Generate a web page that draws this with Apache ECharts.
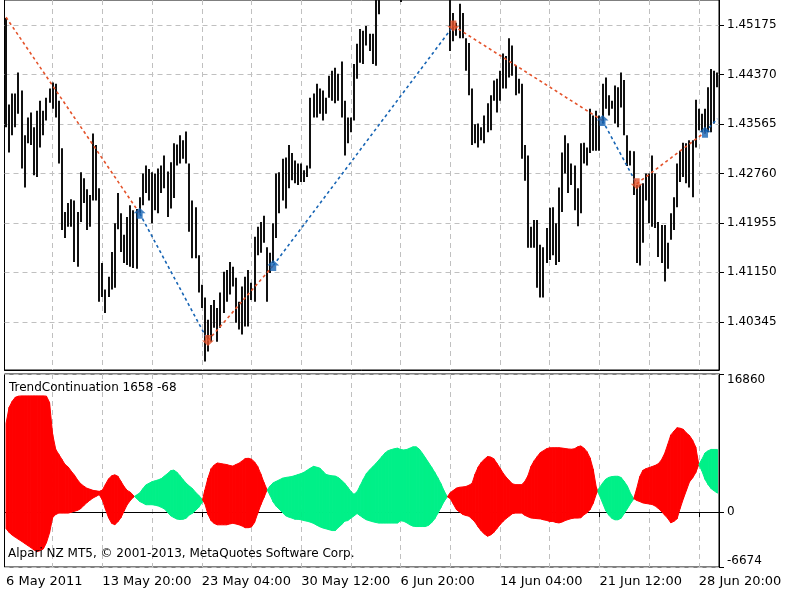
<!DOCTYPE html>
<html><head><meta charset="utf-8">
<script src="https://cdn.jsdelivr.net/npm/echarts@6/dist/echarts.min.js"></script>
<style>html,body{margin:0;padding:0;background:#fff}#c{width:800px;height:600px}</style>
</head><body><div id="c"></div>
<script>
// ---------- DATA ----------
// EURUSD H4 bars (high / low)
const barHigh = [1.4529,1.4388,1.4406,1.4406,1.4440,1.4411,1.4338,1.4367,1.4375,1.4351,
1.4378,1.4394,1.4378,1.4399,1.4414,1.4424,1.4422,1.4394,1.4317,1.4213,
1.4228,1.4234,1.4232,1.4213,1.4278,1.4268,1.4250,1.4241,1.4341,1.4322,
1.4252,1.4130,1.4087,1.4108,1.4148,1.4195,1.4244,1.4211,1.4176,1.4205,
1.4224,1.4216,1.4218,1.4237,1.4276,1.4289,1.4283,1.4278,1.4276,1.4284,
1.4289,1.4305,1.4279,1.4294,1.4325,1.4323,1.4338,1.4330,1.4344,1.4292,
1.4232,1.4221,1.4143,1.4095,1.4074,1.4038,1.4062,1.4070,1.4057,1.4082,
1.4116,1.4119,1.4132,1.4124,1.4106,1.4067,1.4092,1.4108,1.4119,1.4098,
1.4173,1.4189,1.4197,1.4207,1.4156,1.4147,1.4195,1.4276,1.4278,1.4300,
1.4302,1.4322,1.4309,1.4297,1.4292,1.4292,1.4281,1.4289,1.4399,1.4406,
1.4422,1.4414,1.4411,1.4399,1.4435,1.4443,1.4448,1.4438,1.4458,1.4394,
1.4367,1.4367,1.4454,1.4487,1.4511,1.4508,1.4516,1.4503,1.4503,1.4581,
1.4621,1.4640,1.4655,1.4648,1.4630,1.4620,1.4610,1.4600,1.4625,1.4660,
1.4690,1.4695,1.4680,1.4665,1.4670,1.4650,1.4640,1.4630,1.4615,1.4620,
1.4610,1.4605,1.4600,1.4573,1.4537,1.4521,1.4552,1.4537,1.4496,1.4488,
1.4414,1.4356,1.4357,1.4351,1.4370,1.4390,1.4403,1.4427,1.4430,1.4443,
1.4471,1.4467,1.4496,1.4484,1.4451,1.4430,1.4422,1.4322,1.4305,1.4189,
1.4200,1.4200,1.4160,1.4156,1.4187,1.4220,1.4221,1.4195,1.4253,1.4310,
1.4338,1.4325,1.4292,1.4289,1.4252,1.4325,1.4326,1.4318,1.4381,1.4370,
1.4378,1.4370,1.4422,1.4432,1.4403,1.4394,1.4419,1.4416,1.4440,1.4428,
1.4338,1.4313,1.4312,1.4257,1.4257,1.4260,1.4276,1.4276,1.4305,1.4276,
1.4197,1.4192,1.4192,1.4163,1.4211,1.4237,1.4292,1.4313,1.4326,1.4325,
1.4330,1.4330,1.4396,1.4381,1.4373,1.4381,1.4416,1.4446,1.4443,1.4440];
const barLow = [1.4351,1.4310,1.4338,1.4351,1.4373,1.4284,1.4253,1.4325,1.4322,1.4273,
1.4270,1.4318,1.4338,1.4362,1.4391,1.4381,1.4367,1.4292,1.4184,1.4171,
1.4189,1.4189,1.4132,1.4124,1.4197,1.4228,1.4184,1.4189,1.4232,1.4232,
1.4067,1.4075,1.4049,1.4075,1.4087,1.4090,1.4185,1.4148,1.4130,1.4127,
1.4124,1.4122,1.4121,1.4211,1.4224,1.4244,1.4232,1.4195,1.4216,1.4211,
1.4244,1.4252,1.4205,1.4219,1.4236,1.4289,1.4292,1.4300,1.4292,1.4181,
1.4138,1.4138,1.4082,1.4057,1.3970,1.3986,1.4002,1.4025,1.4002,1.4025,
1.4049,1.4067,1.4079,1.4092,1.4033,1.4022,1.4014,1.4027,1.4027,1.4070,
1.4067,1.4143,1.4147,1.4163,1.4067,1.4114,1.4130,1.4171,1.4211,1.4232,
1.4219,1.4252,1.4265,1.4260,1.4257,1.4262,1.4262,1.4270,1.4284,1.4367,
1.4367,1.4373,1.4362,1.4373,1.4399,1.4394,1.4390,1.4394,1.4367,1.4305,
1.4325,1.4343,1.4362,1.4430,1.4456,1.4454,1.4484,1.4475,1.4454,1.4451,
1.4535,1.4565,1.4590,1.4600,1.4575,1.4570,1.4562,1.4555,1.4575,1.4610,
1.4640,1.4650,1.4630,1.4620,1.4625,1.4600,1.4595,1.4580,1.4570,1.4575,
1.4565,1.4562,1.4560,1.4475,1.4491,1.4500,1.4496,1.4496,1.4443,1.4403,
1.4322,1.4325,1.4318,1.4330,1.4325,1.4343,1.4346,1.4394,1.4375,1.4394,
1.4414,1.4414,1.4432,1.4435,1.4403,1.4406,1.4300,1.4264,1.4155,1.4155,
1.4155,1.4090,1.4074,1.4074,1.4130,1.4135,1.4143,1.4127,1.4132,1.4213,
1.4276,1.4244,1.4257,1.4216,1.4190,1.4211,1.4292,1.4289,1.4309,1.4313,
1.4313,1.4313,1.4357,1.4381,1.4370,1.4381,1.4357,1.4351,1.4383,1.4338,
1.4288,1.4289,1.4241,1.4130,1.4126,1.4163,1.4232,1.4195,1.4189,1.4187,
1.4140,1.4130,1.4100,1.4121,1.4168,1.4184,1.4221,1.4262,1.4270,1.4260,
1.4253,1.4237,1.4318,1.4346,1.4343,1.4341,1.4343,1.4343,1.4357,1.4416];

// Zigzag vertices (bar index, price); segments alternate red / blue
const zigIndex = [0, 43, 65, 86, 144, 192, 203, 225, 229];
const zigPrice = [1.4530, 1.4211, 1.4004, 1.4126, 1.4516, 1.4362, 1.4259, 1.4343, 1.4365];

// TrendContinuation indicator: two buffers, red fill when A > B, green when B > A
const trendA = [10850,12810,13540,14030,14160,14190,14190,14190,14190,14190,
14190,14190,14190,14160,13390,9500,7660,7050,6440,5820,
5520,5000,4540,3960,3490,3200,2940,2810,2670,2610,
2550,2700,3400,4070,4450,4560,4390,3760,3130,2660,
2450,2050,1700,1320,1130,920,920,920,860,760,
600,400,0,-430,-640,-830,-880,-850,-720,-330,
-120,230,590,1140,2700,4170,5310,5760,6010,5950,
5880,5820,5710,5630,5820,5990,6260,6550,6580,6480,
6140,5580,4680,3650,2760,2060,1250,720,360,-30,
-430,-590,-710,-850,-860,-920,-1020,-1100,-1210,-1360,
-1570,-1770,-1920,-2020,-2130,-2230,-2230,-1840,-1520,-1090,
-1010,-720,-450,-150,-420,-700,-920,-1040,-1150,-1240,
-1320,-1320,-1320,-1320,-1320,-1320,-1320,-1040,-1100,-1290,
-1530,-1690,-1740,-1740,-1740,-1740,-1590,-1260,-800,-120,
580,1310,1860,2390,2670,2950,3050,3090,3140,3300,
3520,4660,5530,6100,6470,6800,6740,6530,5970,5390,
4770,4270,3860,3470,3370,3370,3370,3760,4460,5600,
6280,6800,7280,7510,7750,7860,7870,7870,7870,7830,
7770,7720,7690,7750,7980,8090,7830,7390,6630,5250,
3050,2080,1160,230,-340,-740,-920,-920,-720,-150,
430,1050,1580,2880,4350,5110,5320,5440,5580,5720,
5930,6400,7160,8270,9430,9890,10310,10250,10110,9680,
9360,8790,7960,5840,5030,4020,3370,2870,2590,2330];
const trendB = [-1990,-2460,-2790,-3050,-3300,-3540,-3800,-4060,-4310,-4600,
-4780,-4680,-4470,-3710,-2510,-640,-270,-100,-100,-100,
-100,0,120,230,430,810,1160,1470,1740,1940,
2150,1500,370,-670,-1350,-1510,-1160,-650,150,920,
1430,1840,2100,2350,2860,3330,3530,3730,3840,3950,
4110,4430,4720,5070,5140,4880,4450,3970,3540,3200,
2890,2450,2070,1660,1040,-250,-1020,-1360,-1530,-1530,
-1530,-1530,-1430,-1340,-1430,-1530,-1680,-1880,-1880,-1790,
-1240,-140,900,1780,2700,3210,3590,3780,3960,4160,
4240,4300,4360,4470,4600,4720,4900,5150,5390,5600,
5500,5390,5000,4620,4510,4440,4410,4220,3910,3530,
3060,2540,2190,2500,3260,4020,4720,5160,5540,5930,
6360,6800,7240,7510,7640,7750,7820,7660,7600,7660,
7820,7980,7980,7710,7210,6640,6070,5490,4870,4200,
3480,2620,1910,1660,990,320,30,-260,-390,-480,
-830,-1210,-1790,-2290,-2660,-2920,-2760,-2460,-1990,-1520,
-1100,-760,-470,-170,-100,-100,-100,-370,-550,-700,
-740,-780,-810,-920,-990,-1120,-1120,-1240,-1300,-1190,
-1010,-880,-770,-710,-710,-670,-320,-60,330,1090,
2220,3000,3540,4020,4250,4350,4390,4390,4230,3750,
3200,2320,1680,1450,1300,1140,1070,1010,940,750,
450,90,-340,-740,-1290,-1100,-800,480,1620,2660,
3700,4190,4820,5820,6470,7230,7500,7660,7660,7660];

const priceTicks = [1.40345, 1.41150, 1.41955, 1.42760, 1.43565, 1.44370, 1.45175];
const indTicks = [-6674, 0, 16860];
const titleText = 'TrendContinuation 1658 -68';
const footerText = 'Alpari NZ MT5, \u00A9 2001-2013, MetaQuotes Software Corp.';

// bar times (H4, weekdays only), starting at 6 May 2011 16:00
const MON = ['Jan','Feb','Mar','Apr','May','Jun','Jul','Aug','Sep','Oct','Nov','Dec'];
const categories = [];
(function () {
  let t = Date.UTC(2011, 4, 6, 16);
  while (categories.length < barHigh.length) {
    const d = new Date(t);
    const wd = d.getUTCDay();
    if (wd !== 0 && wd !== 6) {
      categories.push(categories.length === 0
        ? d.getUTCDate() + ' ' + MON[d.getUTCMonth()] + ' ' + d.getUTCFullYear()
        : d.getUTCDate() + ' ' + MON[d.getUTCMonth()] + ' ' + String(d.getUTCHours()).padStart(2, '0') + ':00');
    }
    t += 4 * 3600 * 1000;
  }
})();

// ---------- CHART ----------
const FONT = 'DejaVu Sans';
const RED = '#ff0000', GREEN = '#00f088';
const ZRED = '#e4532b', ZBLUE = '#1664b4';
const GRIDC = '#c0c0c0';
const N = barHigh.length;
const chart = echarts.init(document.getElementById('c'), null, {renderer: 'canvas'});

const labelEvery = (idx) => idx === 0 || (idx + 1) % 32 === 0;
const gridEvery = (idx) => (idx + 1) % 16 === 0;

const zigSeries = [];
for (let k = 0; k < zigIndex.length - 1; k++) {
  zigSeries.push({
    type: 'line', xAxisIndex: 0, yAxisIndex: 0, z: 4,
    data: [[zigIndex[k], zigPrice[k]], [zigIndex[k + 1], zigPrice[k + 1]]],
    symbol: 'none', silent: true,
    lineStyle: {color: k % 2 === 0 ? ZRED : ZBLUE, width: 1.6, type: [3, 3]}
  });
}
const upPts = [], dnPts = [];
for (let k = 1; k < zigIndex.length - 1; k++) {
  (k % 2 === 1 ? upPts : dnPts).push([zigIndex[k], zigPrice[k]]);
}

const option = {
  animation: false,
  backgroundColor: '#fff',
  textStyle: {fontFamily: FONT},
  title: [
    {text: titleText, left: 9, top: 382, padding: 0,
     textStyle: {fontFamily: FONT, fontSize: 12, fontWeight: 'normal', color: '#000'}},
    {text: footerText, left: 8, top: 548, padding: 0,
     textStyle: {fontFamily: FONT, fontSize: 12, fontWeight: 'normal', color: '#000'}}
  ],
  grid: [
    {left: 4.5, right: 81, top: -1, height: 371, show: true, borderColor: '#000', borderWidth: 1, backgroundColor: '#fff'},
    {left: 4.5, right: 81, top: 374, height: 193, show: true, borderColor: '#000', borderWidth: 1, backgroundColor: '#fff'}
  ],
  xAxis: [
    {type: 'category', gridIndex: 0, data: categories, boundaryGap: true,
     axisLine: {show: true, lineStyle: {color: '#000', width: 1}},
     axisTick: {show: false}, axisLabel: {show: false},
     splitLine: {show: true, interval: gridEvery, alignWithLabel: true,
                 lineStyle: {color: GRIDC, type: [5, 4], width: 1}}},
    {type: 'category', gridIndex: 1, data: categories, boundaryGap: true,
     axisLine: {show: true, lineStyle: {color: '#000', width: 1}},
     axisTick: {show: true, interval: labelEvery, alignWithLabel: true, length: 5,
                lineStyle: {color: '#000'}},
     axisLabel: {show: true, interval: labelEvery, align: 'left', margin: 8,
                 color: '#000', fontSize: 13, fontFamily: FONT},
     splitLine: {show: true, interval: gridEvery, alignWithLabel: true,
                 lineStyle: {color: GRIDC, type: [5, 4], width: 1}}}
  ],
  yAxis: [
    {type: 'value', gridIndex: 0, position: 'right', min: 1.39561, max: 1.45581, scale: true,
     axisLine: {show: true, lineStyle: {color: '#000', width: 1}},
     axisTick: {show: true, length: 5, customValues: priceTicks, lineStyle: {color: '#000'}},
     axisLabel: {show: true, customValues: priceTicks, margin: 8, color: '#000', fontSize: 12,
                 fontFamily: FONT, formatter: (v) => v.toFixed(5)},
     splitLine: {show: true, customValues: priceTicks, lineStyle: {color: GRIDC, type: [5, 4], width: 1}}},
    {type: 'value', gridIndex: 1, position: 'right', min: -6674, max: 16860,
     axisLine: {show: true, lineStyle: {color: '#000', width: 1}},
     axisTick: {show: true, length: 5, customValues: indTicks, lineStyle: {color: '#000'}},
     axisLabel: {show: true, customValues: indTicks, margin: 8, color: '#000', fontSize: 12,
                 fontFamily: FONT, formatter: (v) => String(v),
                 verticalAlignMinLabel: 'bottom', verticalAlignMaxLabel: 'top'},
     splitLine: {show: true, customValues: indTicks, lineStyle: {color: GRIDC, type: [5, 4], width: 1}}}
  ],
  series: [
    {
      type: 'custom', xAxisIndex: 0, yAxisIndex: 0, z: 3, silent: true,
      data: barHigh.map((h, i) => [i, barLow[i], h]),
      renderItem: function (params, api) {
        const i = api.value(0);
        const lo = api.coord([i, api.value(1)]);
        const hi = api.coord([i, api.value(2)]);
        const cs = params.coordSys;
        const y1 = Math.max(hi[1], cs.y), y2 = Math.min(lo[1], cs.y + cs.height);
        if (y2 <= y1) return null;
        const x = Math.round(lo[0]);
        return {type: 'line', shape: {x1: x, y1: y1, x2: x, y2: y2},
                style: {stroke: '#111', lineWidth: 2}};
      }
    },
    ...zigSeries,
    {type: 'scatter', xAxisIndex: 0, yAxisIndex: 0, z: 5, silent: true, data: upPts,
     symbol: 'path://M5,0 L10,5 L7.5,5 L7.5,10 L2.5,10 L2.5,5 L0,5 Z', symbolSize: [12, 11],
     itemStyle: {color: ZBLUE}},
    {type: 'scatter', xAxisIndex: 0, yAxisIndex: 0, z: 5, silent: true, data: dnPts,
     symbol: 'path://M2.5,0 L7.5,0 L7.5,5 L10,5 L5,10 L0,5 L2.5,5 Z', symbolSize: [12, 11],
     itemStyle: {color: ZRED}},
    {
      type: 'custom', xAxisIndex: 1, yAxisIndex: 1, z: 3, silent: true,
      data: trendA.map((a, i) => [i, a, trendB[i],
        i + 1 < N ? trendA[i + 1] : a, i + 1 < N ? trendB[i + 1] : trendB[i]]),
      renderItem: function (params, api) {
        const i = api.value(0);
        if (i >= N - 1) return null;
        const a0 = api.value(1), b0 = api.value(2), a1 = api.value(3), b1 = api.value(4);
        const pa0 = api.coord([i, a0]), pb0 = api.coord([i, b0]);
        const pa1 = api.coord([i + 1, a1]), pb1 = api.coord([i + 1, b1]);
        const d0 = a0 - b0, d1 = a1 - b1;
        const col = (d) => d >= 0 ? RED : GREEN;
        const poly = (pts, c) => ({type: 'polygon', shape: {points: pts},
                                   style: {fill: c, stroke: c, lineWidth: 1}});
        if ((d0 >= 0) === (d1 >= 0)) return poly([pa0, pa1, pb1, pb0], col(d0));
        const t = d0 / (d0 - d1);
        const px = pa0[0] + t * (pa1[0] - pa0[0]);
        const py = pa0[1] + t * (pa1[1] - pa0[1]);
        return {type: 'group', children: [
          poly([pa0, [px, py], pb0], col(d0)),
          poly([[px, py], pa1, pb1], col(d1))
        ]};
      }
    }
  ]
};
chart.setOption(option);
</script>
</body></html>
